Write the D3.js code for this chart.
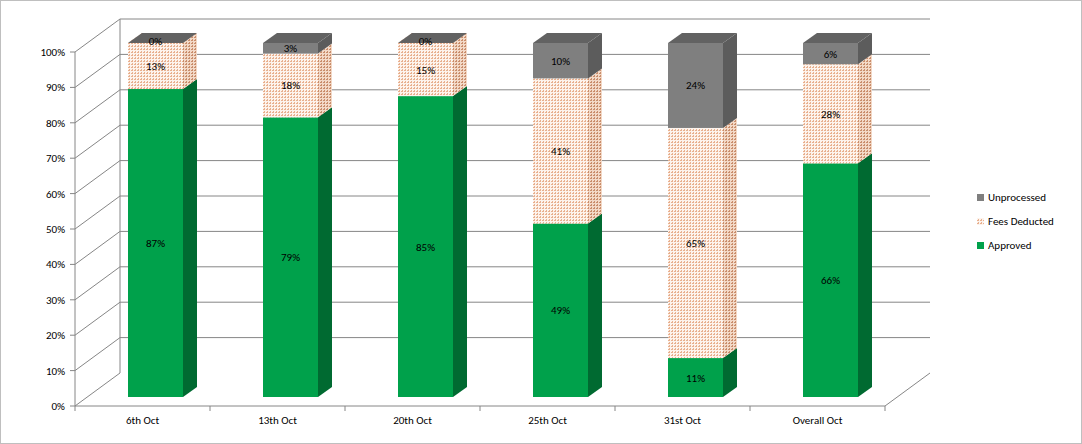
<!DOCTYPE html>
<meta charset="utf-8">
<head>
	<script src="https://cdn.jsdelivr.net/npm/d3@7"></script>
	<style>
		body { margin: 0; background: #fff; }
		text { font-family: Calibri, Carlito, "Liberation Sans", Arial, sans-serif; font-size: 11px; fill: #000; }
	</style>
</head>
<body>
<script>
	// chart data
	const categories = ["6th Oct", "13th Oct", "20th Oct", "25th Oct", "31st Oct", "Overall Oct"];
	const approved = [87, 79, 85, 49, 11, 66];
	const feesDeducted = [13, 18, 15, 41, 65, 28];
	const unprocessed = [0, 3, 0, 10, 24, 6];
	const seriesNames = ["Approved", "Fees Deducted", "Unprocessed"];
	const yTicks = d3.range(0, 101, 10);

	const width = 1082, height = 444;
	const dx = 45, dy = -33;      // depth of the 3d box
	const bdx = 14, bdy = -10;    // depth of each bar

	const svg = d3.select("body").append("svg")
		.attr("width", width).attr("height", height);

	// patterns for fees deducted
	const defs = svg.append("defs");
	function dots(id, bg, fg) {
		const p = defs.append("pattern").attr("id", id)
			.attr("width", 3).attr("height", 3).attr("patternUnits", "userSpaceOnUse");
		p.append("rect").attr("width", 3).attr("height", 3).attr("fill", bg);
		p.append("rect").attr("width", 1).attr("height", 2).attr("fill", fg);
		p.append("rect").attr("x", 2).attr("y", 1).attr("width", 1).attr("height", 1).attr("fill", fg);
	}
	dots("fees", "#fdf3ec", "#e8b08f");
	dots("feesSide", "#f3d9c7", "#c98d6b");
	dots("feesTop", "#f7e2d3", "#d9a07e");

	svg.append("rect").attr("x", 0.5).attr("y", 0.5).attr("width", width - 1).attr("height", height - 1)
		.attr("fill", "none").attr("stroke", "#bfbfbf");

	const x = d3.scaleBand().domain(categories).range([75, 885]);
	const y = d3.scaleLinear().domain([0, 100]).range([406, 52]);    // front axis
	const yb = d3.scaleLinear().domain([0, 100]).range([397, 43]);   // bars

	const grid = svg.append("g");
	yTicks.forEach(t => {
		const yy = y(t);
		grid.append("line").attr("x1", 75).attr("y1", yy).attr("x2", 75 + dx).attr("y2", yy + dy)
			.attr("stroke", "#868686");
		if (t > 0) grid.append("line").attr("x1", 75 + dx).attr("y1", yy + dy).attr("x2", 885 + dx).attr("y2", yy + dy)
			.attr("stroke", "#868686");
		grid.append("line").attr("x1", 70).attr("y1", yy).attr("x2", 75).attr("y2", yy).attr("stroke", "#868686");
		grid.append("text").attr("x", 65).attr("y", yy + 4).attr("text-anchor", "end").text(t + "%");
	});
	grid.append("line").attr("x1", 75).attr("y1", y(0)).attr("x2", 75).attr("y2", y(100)).attr("stroke", "#868686");
	grid.append("line").attr("x1", 75 + dx).attr("y1", y(0) + dy).attr("x2", 75 + dx).attr("y2", y(100) + dy).attr("stroke", "#868686");
	grid.append("line").attr("x1", 75).attr("y1", y(0)).attr("x2", 885).attr("y2", y(0)).attr("stroke", "#868686");
	grid.append("line").attr("x1", 885).attr("y1", y(0)).attr("x2", 885 + dx).attr("y2", y(0) + dy).attr("stroke", "#868686");
	categories.forEach((c, i) => {
		grid.append("line").attr("x1", x(c)).attr("y1", y(0)).attr("x2", x(c)).attr("y2", y(0) + 5).attr("stroke", "#868686");
		grid.append("text").attr("x", x(c) + x.bandwidth() / 2).attr("y", 424).attr("text-anchor", "middle").text(c);
	});
	grid.append("line").attr("x1", 885).attr("y1", y(0)).attr("x2", 885).attr("y2", y(0) + 5).attr("stroke", "#868686");

	const styles = [
		{ front: "#00a14b", side: "#006a31", top: "#00b853" },
		{ front: "url(#fees)", side: "url(#feesSide)", top: "url(#feesTop)" },
		{ front: "#7f7f7f", side: "#5c5c5c", top: "#626262" }
	];

	const bars = svg.append("g");
	const bw = 55;
	categories.forEach((c, i) => {
		const vals = [approved[i], feesDeducted[i], unprocessed[i]];
		const total = d3.sum(vals);
		const x0 = x(c) + (x.bandwidth() - bw) / 2 + 13;
		let acc = 0;
		vals.forEach((v, s) => {
			const lo = acc / total * 100, hi = (acc + v) / total * 100;
			acc += v;
			const yT = yb(hi), yB = yb(lo);
			const st = styles[s];
			bars.append("rect").attr("x", x0).attr("y", yT).attr("width", bw).attr("height", yB - yT).attr("fill", st.front);
			bars.append("path").attr("d", `M${x0 + bw},${yT}L${x0 + bw + bdx},${yT + bdy}L${x0 + bw + bdx},${yB + bdy}L${x0 + bw},${yB}Z`)
				.attr("fill", st.side);
			if (s === 2 || (hi >= 100 && v > 0))
				bars.append("path").attr("d", `M${x0},${yT}L${x0 + bdx},${yT + bdy}L${x0 + bw + bdx},${yT + bdy}L${x0 + bw},${yT}Z`)
					.attr("fill", st.top);
			const ly = v === 0 ? yT + 2 : (yT + yB) / 2 + 4;
			bars.append("text").attr("x", x0 + bw / 2).attr("y", ly).attr("text-anchor", "middle").text(v + "%");
		});
	});

	// legend
	const leg = svg.append("g");
	[2, 1, 0].forEach((s, k) => {
		const ly = 198 + k * 24;
		leg.append("rect").attr("x", 977).attr("y", ly - 4).attr("width", 7).attr("height", 7).attr("fill", styles[s].front);
		leg.append("text").attr("x", 988).attr("y", ly + 3).text(seriesNames[s]);
	});
</script>
</body>
</html>
